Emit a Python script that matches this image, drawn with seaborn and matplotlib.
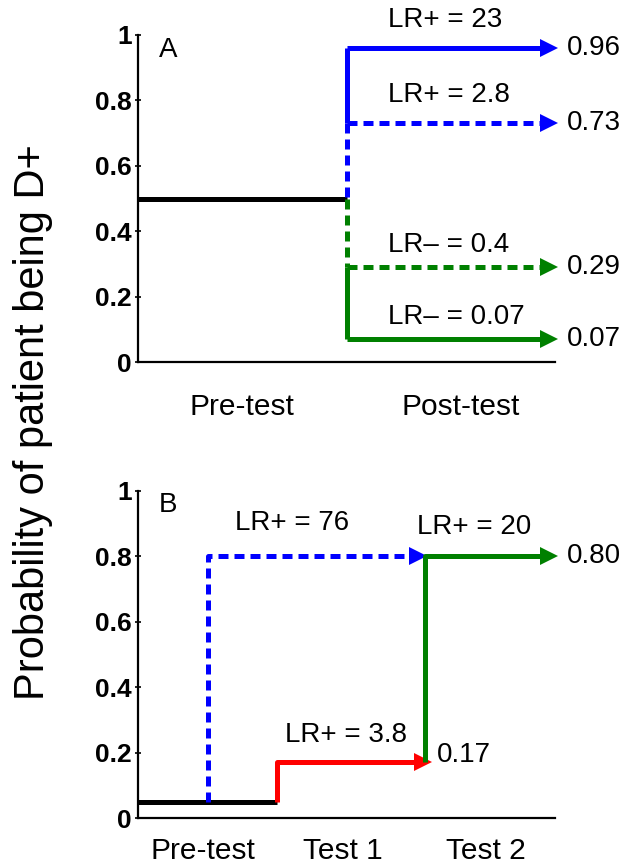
import matplotlib
matplotlib.use("Agg")
import matplotlib.pyplot as plt
import seaborn as sns
import pandas as pd

sns.set_theme(style="white")
plt.rcParams['font.family'] = ['Liberation Sans', 'DejaVu Sans']
plt.rcParams['text.color'] = 'black'
plt.rcParams['xtick.color'] = 'black'
plt.rcParams['ytick.color'] = 'black'

# ---------------- data ----------------
# Panel A: single test
pre_prob_A = 0.5
post_probs_A = [0.96, 0.73, 0.29, 0.07]
lr_labels_A = ["LR+ = 23", "LR+ = 2.8", "LR\u2013 = 0.4", "LR\u2013 = 0.07"]
colors_A = ["#0000FF", "#0000FF", "#008000", "#008000"]
dashed_A = [False, True, True, False]
categories_A = ["Pre-test", "Post-test"]

# Panel B: serial testing
pre_prob_B = 0.05
test1_prob_B = 0.17
test2_prob_B = 0.80
direct_prob_B = 0.80
lr_labels_B = ["LR+ = 76", "LR+ = 3.8", "LR+ = 20"]
categories_B = ["Pre-test", "Test 1", "Test 2"]
yticks = [0, 0.2, 0.4, 0.6, 0.8, 1]
ytick_labels = ["0", "0.2", "0.4", "0.6", "0.8", "1"]

# ---------------- style ----------------
LW = 3.6
DASH = (0, (2.0, 1.2))
MS = 13
FS_ANN = 20
FS_X = 21.5
FS_TICK = 19

fig = plt.figure(figsize=(6.39, 8.67), dpi=100)
axA = fig.add_axes([138/639, 1-362/867, 417/639, 327/867])
axB = fig.add_axes([138/639, 1-818/867, 417/639, 327/867])


def seg(ax, xs, ys, color, dashed=False, arrow=False):
    kw = dict(color=color, linewidth=LW, clip_on=False,
              solid_capstyle='butt', dash_capstyle='butt')
    if dashed:
        kw['linestyle'] = DASH
    if arrow:
        kw.update(marker='>', markevery=[len(xs) - 1], markersize=MS,
                  markeredgecolor=color, markerfacecolor=color, markeredgewidth=0)
    sns.lineplot(x=xs, y=ys, ax=ax, sort=False, estimator=None, **kw)


def style_axes(ax, xmax, cats, catpos, xpad):
    ax.set_xlim(0, xmax)
    ax.set_ylim(0, 1)
    sns.despine(ax=ax)
    for s in ["left", "bottom"]:
        ax.spines[s].set_linewidth(1.6)
        ax.spines[s].set_color("black")
    ax.set_yticks(yticks)
    ax.set_yticklabels(ytick_labels, fontsize=FS_TICK, fontweight='bold')
    ax.tick_params(axis='y', direction='inout', length=5, width=1.2,
                   left=True, pad=2, colors='black')
    ax.set_xticks(catpos)
    ax.set_xticklabels(cats, fontsize=FS_X)
    ax.tick_params(axis='x', length=0, pad=xpad, colors='black')
    ax.set_facecolor("white")


# ---------------- Panel A ----------------
x_split_A = 1.0
x_end_A = 1.971
seg(axA, [0, x_split_A], [pre_prob_A, pre_prob_A], "black")
# vertical parts
seg(axA, [x_split_A, x_split_A], [post_probs_A[0], post_probs_A[1]], colors_A[0])
seg(axA, [x_split_A, x_split_A], [post_probs_A[1], pre_prob_A], colors_A[1], dashed=True)
seg(axA, [x_split_A, x_split_A], [pre_prob_A, post_probs_A[2]], colors_A[2], dashed=True)
seg(axA, [x_split_A, x_split_A], [post_probs_A[2], post_probs_A[3]], colors_A[3])
label_y_A = [1.046, 0.817, 0.358, 0.138]
for p, lab, c, d, ly in zip(post_probs_A, lr_labels_A, colors_A, dashed_A, label_y_A):
    seg(axA, [x_split_A, x_end_A], [p, p], c, dashed=d, arrow=True)
    axA.text(1.199, ly, lab, fontsize=FS_ANN, ha='left', va='center')
    axA.text(2.058, p, f"{p:.2f}", fontsize=FS_ANN, ha='left', va='center')
axA.text(0.10, 0.955, "A", fontsize=FS_ANN, ha='left', va='center')
style_axes(axA, 2, categories_A, [0.5, 1.55], 22)

# ---------------- Panel B ----------------
seg(axB, [0, 1.0], [pre_prob_B, pre_prob_B], "black")
# direct high-LR test (blue dashed)
seg(axB, [0.5, 0.5, 2.014], [pre_prob_B, direct_prob_B, direct_prob_B], "#0000FF",
    dashed=True, arrow=True)
# test 1 (red)
seg(axB, [1.0, 1.0, 2.05], [pre_prob_B, test1_prob_B, test1_prob_B], "#FF0000", arrow=True)
# test 2 (green)
seg(axB, [2.065, 2.065, 2.957], [test1_prob_B, test2_prob_B, test2_prob_B], "#008000",
    arrow=True)
axB.text(0.698, 0.902, lr_labels_B[0], fontsize=FS_ANN, ha='left', va='center')
axB.text(1.058, 0.254, lr_labels_B[1], fontsize=FS_ANN, ha='left', va='center')
axB.text(2.007, 0.89, lr_labels_B[2], fontsize=FS_ANN, ha='left', va='center')
axB.text(2.151, 0.193, f"{test1_prob_B:.2f}", fontsize=FS_ANN, ha='left', va='center')
axB.text(3.086, test2_prob_B, f"{test2_prob_B:.2f}", fontsize=FS_ANN, ha='left', va='center')
axB.text(0.151, 0.957, "B", fontsize=FS_ANN, ha='left', va='center')
style_axes(axB, 3, categories_B, [0.47, 1.475, 2.5], 14)

fig.text(33/639, 1-422/867, "Probability of patient being D+", fontsize=30,
         rotation=90, ha='center', va='center')

fig.savefig("out.png", dpi=100, facecolor="white")
